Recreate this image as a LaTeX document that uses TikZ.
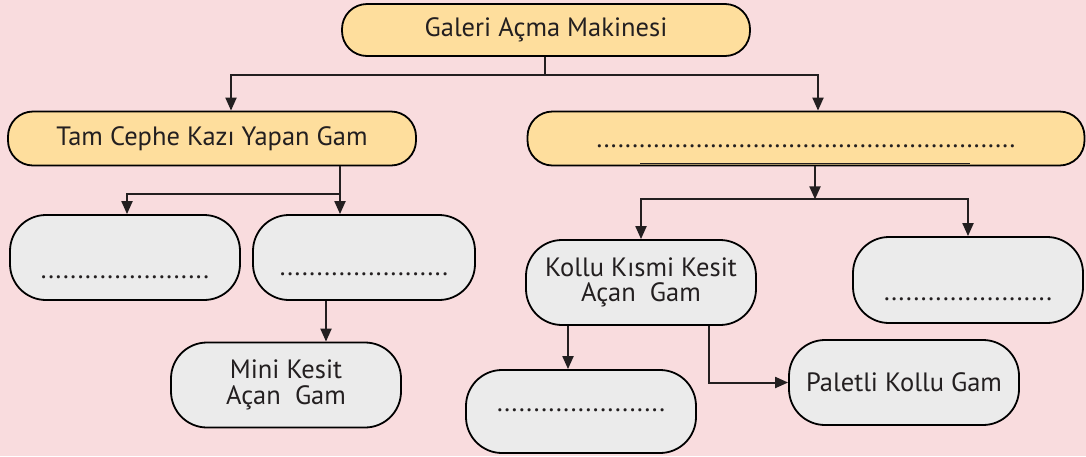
\documentclass[tikz,border=0pt]{standalone}
\usepackage{fontspec}
\setmainfont{PT Sans}
\usepackage{tikz}
\usetikzlibrary{positioning,arrows.meta}
\definecolor{arkaplan}{HTML}{F9DCDE}
\definecolor{sari}{HTML}{FEDE9D}
\definecolor{gri}{HTML}{EBEBEB}
\definecolor{yazi}{HTML}{231F20}
\newcommand{\noktalar}[1]{\hbox to #1{\xleaders\hbox to 7.1pt{\hss.\hss}\hfill}}

\begin{document}
\begin{tikzpicture}[x=1pt,y=-1pt,
    sarikutu/.style={draw=black,line width=1.8pt,fill=sari,text=yazi,rounded corners=25pt,inner sep=2pt,font=\fontsize{26.5}{25}\selectfont},
    grikutu/.style={draw=black,line width=1.8pt,fill=gri,text=yazi,rounded corners=36pt,inner sep=2pt,minimum width=230pt,minimum height=85pt,align=center,font=\fontsize{26.5}{25.5}\selectfont},
    ok/.style={draw=yazi,line width=2pt,-{Triangle[length=13pt,width=11pt]}}]
      \useasboundingbox (0,0) rectangle (1086,456);
      \fill[arkaplan] (0,0) rectangle (1086,456);
      % ust seviye
      \node[sarikutu,minimum width=408pt,minimum height=52pt](galeri) at (546,30){Galeri Açma Makinesi};
      \node[sarikutu,minimum width=408pt,minimum height=54pt](tam) at (212,138.5){Tam Cephe Kazı Yapan Gam};
      \node[sarikutu,minimum width=557pt,minimum height=54pt,text height=18pt,text depth=0pt](diger) at (806,138.5){\noktalar{420pt}};
      % alt seviye
      \node[grikutu,text height=42pt,text depth=0pt](bos1) at (125,257.5){\noktalar{170pt}};
      \node[grikutu,minimum width=222pt,text height=36pt,text depth=0pt](bos2) at (364,257.5){\noktalar{170pt}};
      \node[grikutu](mini) at (286,385){Mini Kesit\\Açan~~Gam};
      \node[grikutu](kollu) at (641,282.5){Kollu Kısmi Kesit\\Açan~~Gam};
      \node[grikutu,minimum height=86pt,text height=40pt,text depth=0pt](bos3) at (968,280){\noktalar{170pt}};
      \node[grikutu,minimum height=83pt,text height=0pt,text depth=0pt](bos4) at (581,411.5){\noktalar{170pt}};
      \node[grikutu](paletli) at (904,382.5){Paletli Kollu Gam};
      % baglantilar
      \draw[line width=1.2pt,yazi] ([xshift=-166pt,yshift=3pt]diger.south) -- ([xshift=164pt,yshift=3pt]diger.south);
      \draw[ok] ([xshift=-1pt]galeri.south) -- ++(0,18) -| ([xshift=19pt]tam.north);
      \draw[ok] ([xshift=-1pt]galeri.south) -- ++(0,18) -| ([xshift=12pt]diger.north);
      \draw[ok] ([xshift=128pt]tam.south) -- ++(0,28) -| ([xshift=2pt]bos1.north);
      \draw[ok] ([xshift=128pt]tam.south) -- ([xshift=-24pt]bos2.north);
      \draw[ok] ([xshift=-38pt]bos2.south) -- ([xshift=-38pt]bos2.south |- mini.north);
      \coordinate (dugum) at ([xshift=9pt,yshift=-33pt]diger.south);
      \draw[ok] ([xshift=9pt]diger.south) -- (dugum);
      \draw[ok] (dugum) -| (kollu.north);
      \draw[ok] (dugum) -| (bos3.north);
      \draw[ok] ([xshift=-73pt]kollu.south) -- ([xshift=-73pt]kollu.south |- bos4.north);
      \draw[ok] ([xshift=68pt]kollu.south) |- (paletli.west);
    \end{tikzpicture}
\end{document}
